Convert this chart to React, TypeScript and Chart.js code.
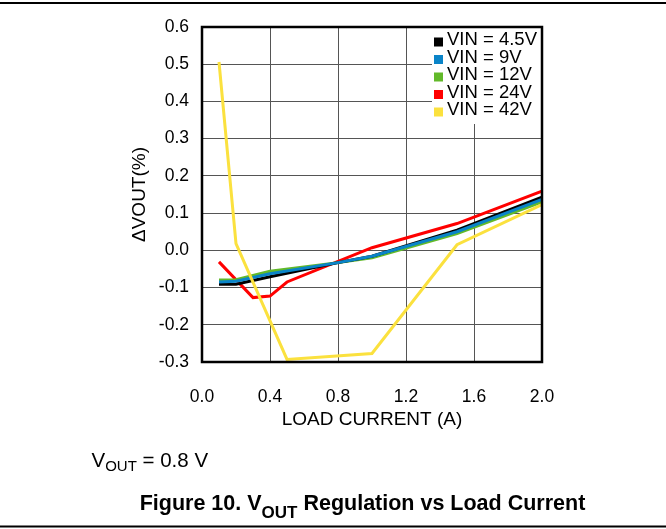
import React, { useEffect, useRef } from "react";
import { Chart, registerables } from "chart.js";

Chart.register(...registerables);

const FONT = '"Liberation Sans", Arial, Helvetica, sans-serif';

// ---- data ----
const seriesLabels = ["VIN = 4.5V", "VIN = 9V", "VIN = 12V", "VIN = 24V", "VIN = 42V"];
const seriesColors = ["#000000", "#0a84c8", "#62b92a", "#ff0000", "#fbe13e"];
const drawOrder = [2, 1, 3, 4, 0];

const loadLow = [0.1, 0.2, 0.4, 0.8, 1.0, 1.5, 2.0];
const vin45 = [-0.091, -0.091, -0.071, -0.033, -0.016, 0.054, 0.143];
const vin9 = [-0.085, -0.083, -0.063, -0.033, -0.016, 0.05, 0.137];
const vin12 = [-0.08, -0.079, -0.056, -0.033, -0.02, 0.045, 0.13];
const load24 = [0.1, 0.3, 0.4, 0.5, 1.0, 1.5, 2.0];
const vin24 = [-0.031, -0.127, -0.123, -0.085, 0.007, 0.072, 0.159];
const load42 = [0.1, 0.2, 0.5, 1.0, 1.5, 2.0];
const vin42 = [0.506, 0.018, -0.293, -0.277, 0.015, 0.123];

const xTicks = [0, 0.4, 0.8, 1.2, 1.6, 2.0];
const yTicks = [-0.3, -0.2, -0.1, 0, 0.1, 0.2, 0.3, 0.4, 0.5, 0.6];

const xTitle = "LOAD CURRENT (A)";
const yTitle = "\u0394VOUT(%)";

const toPts = (xs: number[], ys: number[]) => xs.map((x, i) => ({ x, y: ys[i] }));

const decorPlugin = {
  id: "decor",
  beforeDatasetsDraw(chart: any) {
    const { ctx, chartArea: a } = chart;
    ctx.save();
    ctx.fillStyle = "#ffffff";
    ctx.fillRect(a.right - 110, a.top, 110, 97);
    ctx.restore();
  },
  afterDraw(chart: any) {
    const { ctx, chartArea: a } = chart;
    const W = chart.width;
    ctx.save();
    // plot frame
    ctx.strokeStyle = "#000";
    ctx.lineWidth = 2.5;
    ctx.strokeRect(a.left, a.top, a.right - a.left, a.bottom - a.top);

    // legend
    ctx.font = `18.5px ${FONT}`;
    ctx.textBaseline = "middle";
    ctx.textAlign = "left";
    seriesLabels.forEach((lab, i) => {
      const y = a.top + 13 + i * 17.5;
      ctx.fillStyle = seriesColors[i];
      ctx.fillRect(a.right - 108, y - 2.5, 9, 9);
      ctx.fillStyle = "#000";
      ctx.fillText(lab, a.right - 95, y);
    });

    // page rules
    ctx.fillStyle = "#000";
    ctx.fillRect(0, 2, W, 2);
    ctx.fillRect(0, 525.5, W, 2);

    // V_OUT = 0.8 V
    ctx.textBaseline = "alphabetic";
    let x = 91.5;
    ctx.font = `20.5px ${FONT}`;
    ctx.fillText("V", x, 466.7);
    x += ctx.measureText("V").width;
    ctx.font = `15px ${FONT}`;
    ctx.fillText("OUT", x, 471);
    x += ctx.measureText("OUT").width;
    ctx.font = `20.5px ${FONT}`;
    ctx.fillText(" = 0.8 V", x, 466.7);

    // caption
    const p1 = "Figure 10. V";
    const p2 = "OUT";
    const p3 = " Regulation vs Load Current";
    const big = `bold 21.5px ${FONT}`;
    const small = `bold 17px ${FONT}`;
    ctx.font = big;
    const w1 = ctx.measureText(p1).width;
    const w3 = ctx.measureText(p3).width;
    ctx.font = small;
    const w2 = ctx.measureText(p2).width;
    let cx = 362.5 - (w1 + w2 + w3) / 2;
    ctx.font = big;
    ctx.fillText(p1, cx, 510);
    cx += w1;
    ctx.font = small;
    ctx.fillText(p2, cx, 518);
    cx += w2;
    ctx.font = big;
    ctx.fillText(p3, cx, 510);
    ctx.restore();
  },
};

export default function App() {
  const ref = useRef<HTMLCanvasElement | null>(null);

  useEffect(() => {
    if (!ref.current) return;
    const datasets = [
      toPts(loadLow, vin45),
      toPts(loadLow, vin9),
      toPts(loadLow, vin12),
      toPts(load24, vin24),
      toPts(load42, vin42),
    ].map((data, i) => ({
      label: seriesLabels[i],
      data,
      borderColor: seriesColors[i],
      backgroundColor: seriesColors[i],
      borderWidth: 3,
      pointRadius: 0,
      tension: 0,
      fill: false,
      order: drawOrder[i],
    }));

    const chart = new Chart(ref.current, {
      type: "line",
      data: { datasets },
      plugins: [decorPlugin],
      options: {
        animation: false,
        responsive: false,
        maintainAspectRatio: false,
        layout: { padding: { left: 0, right: 124, top: 27, bottom: 0 } },
        plugins: { legend: { display: false }, tooltip: { enabled: false } },
        scales: {
          x: {
            type: "linear",
            min: 0,
            max: 2,
            afterBuildTicks: (s: any) => {
              s.ticks = xTicks.map((v) => ({ value: v }));
            },
            afterFit: (s: any) => {
              s.height = 167;
            },
            grid: { color: "#555", lineWidth: 1, drawTicks: false },
            border: { display: false },
            ticks: {
              padding: 25,
              color: "#000",
              font: { family: FONT, size: 17.5 },
              maxRotation: 0,
              callback: (v: any) => Number(v).toFixed(1),
            },
            title: {
              display: true,
              text: xTitle,
              color: "#000",
              font: { family: FONT, size: 19 },
              padding: { top: 0, bottom: 98 },
            },
          },
          y: {
            type: "linear",
            min: -0.3,
            max: 0.6,
            afterBuildTicks: (s: any) => {
              s.ticks = yTicks.map((v) => ({ value: v }));
            },
            afterFit: (s: any) => {
              s.width = 202;
            },
            grid: { color: "#555", lineWidth: 1, drawTicks: false },
            border: { display: false },
            ticks: {
              padding: 13,
              color: "#000",
              font: { family: FONT, size: 17.5 },
              callback: (v: any) => Number(v).toFixed(1),
            },
            title: {
              display: true,
              text: yTitle,
              color: "#000",
              font: { family: FONT, size: 19 },
              padding: { top: 128, bottom: 0 },
            },
          },
        },
      },
    });
    return () => chart.destroy();
  }, []);

  return (
    <div style={{ position: "fixed", left: 0, top: 0, width: 666, height: 529, background: "#fff" }}>
      <canvas ref={ref} width={666} height={529} style={{ display: "block" }} />
    </div>
  );
}
